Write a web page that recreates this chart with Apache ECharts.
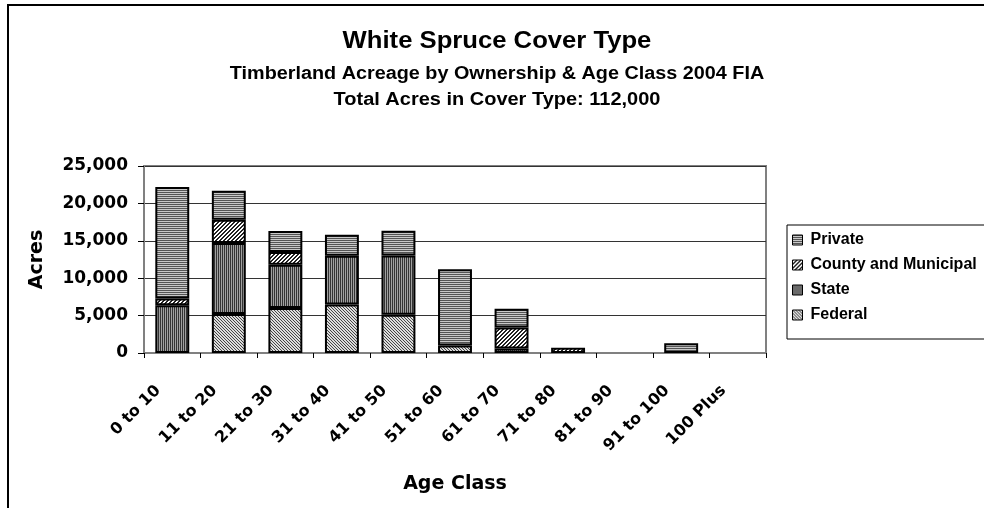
<!DOCTYPE html>
<html><head><meta charset="utf-8">
<script src="https://cdn.jsdelivr.net/npm/echarts@6/dist/echarts.min.js"></script>
<style>html,body{margin:0;padding:0;background:#fff}#c{width:984px;height:508px}</style>
</head><body><div id="c"></div>
<script>
const categories = ['0 to 10','11 to 20','21 to 30','31 to 40','41 to 50','51 to 60','61 to 70','71 to 80','81 to 90','91 to 100','100 Plus'];
const federal = [0, 5200, 6000, 6500, 5100, 1000, 0, 0, 0, 0, 0];
const state = [6400, 9500, 5800, 6500, 7950, 0, 600, 0, 0, 0, 0];
const county = [900, 3100, 1700, 0, 0, 0, 2800, 700, 0, 0, 0];
const privateLand = [14900, 3900, 2800, 2800, 3300, 10200, 2500, 0, 0, 1300, 0];
const yTicks = [0, 5000, 10000, 15000, 20000, 25000];

function makePattern(w, h, draw) {
  const c = document.createElement('canvas');
  c.width = w; c.height = h;
  const g = c.getContext('2d');
  draw(g);
  return { image: c, repeat: 'repeat' };
}
const patPrivate = makePattern(1, 2, g => { g.fillStyle = '#c8c8c8'; g.fillRect(0,0,1,2); g.fillStyle = '#555'; g.fillRect(0,0,1,1); });
const patState = makePattern(2, 1, g => { g.fillStyle = '#a0a0a0'; g.fillRect(0,0,2,1); g.fillStyle = '#333'; g.fillRect(0,0,1,1); });
const patCounty = makePattern(4, 4, g => { g.fillStyle = '#fff'; g.fillRect(0,0,4,4); g.fillStyle = '#222'; for (let i=0;i<4;i++){ g.fillRect(3-i,i,1,1); g.fillRect((4-i)%4,i,1,1);} });
const patFederal = makePattern(3, 3, g => { g.fillStyle = '#dcdcdc'; g.fillRect(0,0,3,3); g.fillStyle = '#444'; for (let i=0;i<3;i++){ g.fillRect(i,i,1,1);} });

const font = '"Liberation Sans", Arial, sans-serif';
const wide = '"DejaVu Sans", sans-serif';
const chart = echarts.init(document.getElementById('c'));
function bar(name, data, pat) {
  return { name, type: 'bar', stack: 'a', data: data.map(v => v === 0 ? '-' : v), barWidth: '60%',
    itemStyle: { color: pat, borderColor: '#000', borderWidth: 2 } };
}
chart.setOption({
  animation: false,
  textStyle: { fontFamily: font },
  graphic: [
    { type: 'rect', shape: { x: 8, y: 5, width: 1200, height: 800 }, style: { fill: 'none', stroke: '#000', lineWidth: 2 }, silent: true },
    { type: 'text', x: 497, y: 42, scaleX: 1.115, style: { text: 'White Spruce Cover Type', font: 'bold 23px ' + font, fill: '#000', textAlign: 'center', textVerticalAlign: 'middle' } },
    { type: 'text', x: 497, y: 74, scaleX: 1.1, style: { text: 'Timberland Acreage by Ownership & Age Class 2004 FIA', font: 'bold 18px ' + font, fill: '#000', textAlign: 'center', textVerticalAlign: 'middle' } },
    { type: 'text', x: 497, y: 100, scaleX: 1.11, style: { text: 'Total Acres in Cover Type: 112,000', font: 'bold 18px ' + font, fill: '#000', textAlign: 'center', textVerticalAlign: 'middle' } }
  ],
  legend: {
    orient: 'vertical', left: 787, top: 225,
    data: ['Private', 'County and Municipal', 'State', 'Federal'],
    icon: 'rect',
    itemWidth: 10, itemHeight: 10, itemGap: 9,
    padding: [7, 30, 16, 5],
    borderColor: '#000', borderWidth: 1,
    textStyle: { fontFamily: font, fontWeight: 'bold', fontSize: 16, color: '#000', padding: [0,0,0,3] },
    itemStyle: { borderColor: '#000', borderWidth: 1 }
  },
  grid: { left: 144, right: 218, top: 166, bottom: 155, show: true, borderColor: '#808080', borderWidth: 2 },
  xAxis: {
    type: 'category', data: categories,
    name: 'Age Class', nameLocation: 'middle', nameGap: 122,
    nameTextStyle: { fontFamily: wide, fontWeight: 'bold', fontSize: 19, color: '#000' },
    axisLine: { lineStyle: { color: '#808080', width: 2 } },
    axisTick: { show: true, length: 5, lineStyle: { color: '#000' } },
    axisLabel: { rotate: 45, interval: 0, margin: 21, fontFamily: wide, fontWeight: 'bold', fontSize: 16, color: '#000', padding: [0, 20, 0, 0] }
  },
  yAxis: {
    type: 'value', min: 0, max: 25000, interval: 5000,
    name: 'Acres', nameLocation: 'middle', nameGap: 97,
    nameTextStyle: { fontFamily: wide, fontWeight: 'bold', fontSize: 19, color: '#000' },
    axisLine: { show: true, lineStyle: { color: '#808080', width: 2 } },
    axisTick: { show: true, length: 6, lineStyle: { color: '#000' } },
    axisLabel: { margin: 16, fontFamily: wide, fontWeight: 'bold', fontSize: 17, color: '#000',
      formatter: v => yTicks.includes(v) ? v.toLocaleString('en-US') : '' },
    splitLine: { lineStyle: { color: '#333', width: 1 } }
  },
  series: [
    bar('Federal', federal, patFederal),
    bar('State', state, patState),
    bar('County and Municipal', county, patCounty),
    bar('Private', privateLand, patPrivate)
  ]
});
</script></body></html>
